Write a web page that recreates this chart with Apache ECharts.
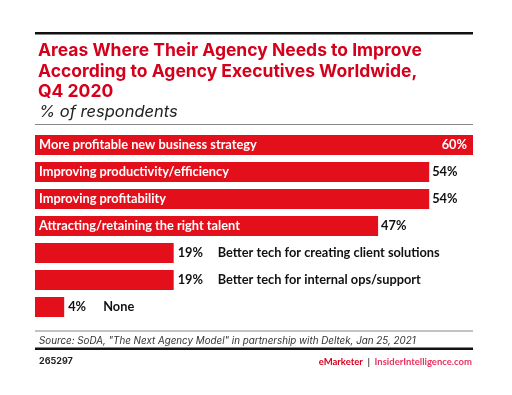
<!DOCTYPE html>
<html><head><meta charset="utf-8">
<script src="https://cdn.jsdelivr.net/npm/echarts@6/dist/echarts.min.js"></script>
<style>html,body{margin:0;padding:0;background:#fff}#c{width:512px;height:395px}</style>
</head><body><div id="c"></div>
<script>
var categories = ["More profitable new business strategy","Improving productivity/efficiency","Improving profitability","Attracting/retaining the right talent","Better tech for creating client solutions","Better tech for internal ops/support","None"];
var values = [60,54,54,47,19,19,4];
var titleText = "Areas Where Their Agency Needs to Improve\nAccording to Agency Executives Worldwide,\nQ4 2020";
var subtitleText = "% of respondents";
var sourceText = "Source: SoDA, \"The Next Agency Model\" in partnership with Deltek, Jan 25, 2021";
var idText = "265297";

var FONT = "Inter";
var LFONT = "Lato";
var LSIZE = 12.8;
var RED = "#e3101c";
var chart = echarts.init(document.getElementById('c'), null, {renderer:'canvas'});

var mainData = values.map(function(v,i){
  var insideName = i < 4;
  return {
    value: v,
    label: insideName ? {
      show:true, position:'insideLeft', distance:4, color:'#fff', fontWeight:'bold', fontSize:LSIZE, fontFamily:LFONT,
      formatter: function(){ return categories[i]; }
    } : {
      show:true, position:'right', distance:4, color:'#111', fontFamily:LFONT, fontSize:LSIZE, fontWeight:'bold',
      formatter: function(){ return '{v|' + v + '%}{c|' + categories[i] + '}'; },
      rich: { v:{width: i===6 ? 35 : 40, fontWeight:'bold', fontSize:LSIZE, fontFamily:LFONT, color:'#111'}, c:{fontWeight:'bold', fontSize:LSIZE, fontFamily:LFONT, color:'#111'} }
    }
  };
});
var valData = values.map(function(v,i){
  if (i === 0) return {value:v, label:{show:true, position:'insideRight', distance:6, color:'#fff', formatter: v+'%'}};
  if (i < 4) return {value:v, label:{show:true, position:'right', distance:3, color:'#111', formatter: v+'%'}};
  return {value:v, label:{show:false}};
});

chart.setOption({
  animation:false,
  title:[
    {text:titleText, left:33, top:35.5, textStyle:{color:'#d4001c', fontFamily:FONT, fontWeight:'bold', fontSize:17.5, lineHeight:20.5}},
    {text:subtitleText, left:34, top:98.5, textStyle:{color:'#222', fontFamily:FONT, fontWeight:'normal', fontStyle:'italic', fontSize:16.5}},
    {text:sourceText, left:34, top:331, textStyle:{color:'#333', fontFamily:FONT, fontWeight:'normal', fontStyle:'italic', fontSize:9.8}},
    {text:idText, left:34, top:352, textStyle:{color:'#222', fontFamily:FONT, fontWeight:'bold', fontSize:9}},
    {text:'{a|eMarketer}{b|  |  }{c|InsiderIntelligence.com}', right:35, top:352, textStyle:{rich:{
      a:{color:'#d4001c', fontFamily:LFONT, fontWeight:'bold', fontSize:9.5},
      b:{color:'#444', fontFamily:LFONT, fontSize:9.5},
      c:{color:'#e8335f', fontFamily:LFONT, fontSize:9.5}
    }}}
  ],
  graphic:[
    {type:'rect', shape:{x:35, y:32, width:438, height:2.5}, style:{fill:'#111'}},
    {type:'rect', shape:{x:35, y:124, width:438, height:1}, style:{fill:'#888'}},
    {type:'rect', shape:{x:35, y:330.5, width:438, height:1}, style:{fill:'#888'}},
    {type:'rect', shape:{x:35, y:347.5, width:438, height:2.5}, style:{fill:'#111'}}
  ],
  grid:{left:35, right:39, top:131.5, bottom:74.5, containLabel:false},
  xAxis:{type:'value', min:0, max:60, show:false},
  yAxis:{type:'category', data:categories, inverse:true, show:false},
  series:[
    {type:'bar', data:mainData, barWidth:20, itemStyle:{color:RED}, z:2},
    {type:'bar', data:valData, barWidth:20, barGap:'-100%', itemStyle:{color:'rgba(0,0,0,0)'}, z:3,
     label:{fontFamily:LFONT, fontWeight:'bold', fontSize:LSIZE}}
  ]
});
</script></body></html>
